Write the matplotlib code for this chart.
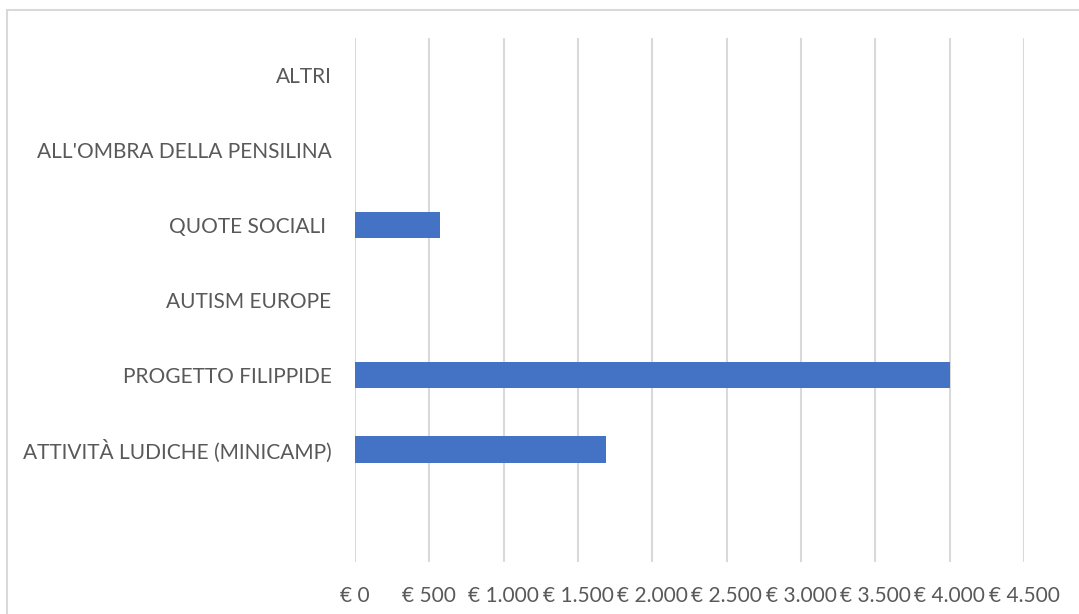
import matplotlib.pyplot as plt
from matplotlib.patches import Rectangle
from matplotlib.ticker import FuncFormatter

plt.rcParams['font.family'] = ['Lato', 'DejaVu Sans']

# Data (bottom to top)
categories = ['', 'ATTIVITÀ LUDICHE (MINICAMP)', 'PROGETTO FILIPPIDE', 'AUTISM EUROPE',
              'QUOTE SOCIALI ', "ALL'OMBRA DELLA PENSILINA", 'ALTRI']
values = [0, 1690, 4000, 0, 572, 0, 0]
x_ticks = [0, 500, 1000, 1500, 2000, 2500, 3000, 3500, 4000, 4500]

W, H = 1079, 614
fig = plt.figure(figsize=(W / 100, H / 100), dpi=100)
ax = fig.add_axes([355 / W, 1 - 562 / H, (1024 - 355) / W, (562 - 38) / H])

pos = list(range(len(categories)))
ax.barh(pos, values, height=0.355, color='#4472C4', zorder=3)

ax.set_xlim(0, 4500)
ax.set_ylim(-0.5, len(categories) - 0.5)
ax.set_xticks(x_ticks)
ax.xaxis.set_major_formatter(FuncFormatter(lambda v, p: '€ ' + f'{int(v):,}'.replace(',', '.')))
ax.set_yticks(pos)
ax.set_yticklabels(categories)

ax.grid(axis='x', color='#d9d9d9', linewidth=1.5, zorder=0)
for s in ax.spines.values():
    s.set_visible(False)
ax.tick_params(axis='both', length=0, colors='#595959', labelsize=15)
ax.tick_params(axis='y', pad=17)
ax.tick_params(axis='x', pad=17)

# chart border
fig.patches.append(Rectangle((6.5 / W, -0.1), 1.2, 1 - 9.5 / H + 0.1,
                             transform=fig.transFigure, fill=False,
                             edgecolor='#d9d9d9', linewidth=1.5))

fig.savefig('out.png', dpi=100)
